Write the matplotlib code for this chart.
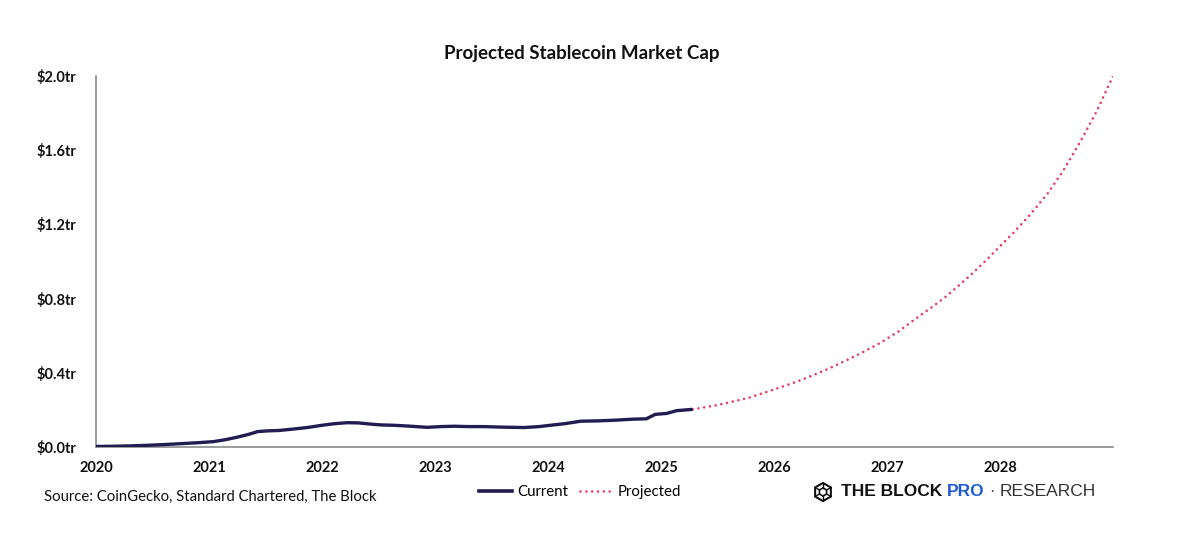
import matplotlib
matplotlib.use("Agg")
import matplotlib.pyplot as plt
from matplotlib.patches import RegularPolygon
from matplotlib.lines import Line2D

plt.rcParams['font.family'] = ['Lato', 'DejaVu Sans']

# current market cap, $tr, by decimal year
cur_years = [2020.00, 2020.15, 2020.30, 2020.45, 2020.60, 2020.75, 2020.90, 2021.04,
             2021.15, 2021.25, 2021.35, 2021.43, 2021.52, 2021.62, 2021.75, 2021.87,
             2022.00, 2022.10, 2022.22, 2022.32, 2022.42, 2022.52, 2022.64, 2022.76,
             2022.93, 2023.05, 2023.17, 2023.30, 2023.43, 2023.60, 2023.79, 2023.92,
             2024.02, 2024.15, 2024.29, 2024.45, 2024.61, 2024.75, 2024.87, 2024.95,
             2025.05, 2025.14, 2025.28]
cur_vals = [0.003, 0.004, 0.006, 0.009, 0.013, 0.018, 0.023, 0.029,
            0.040, 0.053, 0.068, 0.083, 0.087, 0.089, 0.097, 0.105,
            0.117, 0.125, 0.131, 0.130, 0.124, 0.119, 0.117, 0.113,
            0.106, 0.110, 0.112, 0.110, 0.110, 0.107, 0.105, 0.110,
            0.117, 0.126, 0.139, 0.141, 0.145, 0.150, 0.152, 0.176,
            0.181, 0.196, 0.203]

# projection
proj_years = [2025.28, 2025.50, 2025.77, 2026.00, 2026.20, 2026.35, 2026.50, 2026.65,
              2026.80, 2026.94, 2027.10, 2027.25, 2027.40, 2027.53, 2027.70, 2027.85,
              2027.98, 2028.12, 2028.27, 2028.42, 2028.56, 2028.71, 2028.86, 2029.00]
proj_vals = [0.203, 0.226, 0.264, 0.31, 0.352, 0.388, 0.427, 0.47,
             0.515, 0.561, 0.622, 0.69, 0.755, 0.815, 0.905, 0.99,
             1.07, 1.155, 1.255, 1.365, 1.49, 1.645, 1.815, 2.0]

year_ticks = [2020, 2021, 2022, 2023, 2024, 2025, 2026, 2027, 2028]
y_ticks = [0.0, 0.4, 0.8, 1.2, 1.6, 2.0]
y_labels = ['$0.0tr', '$0.4tr', '$0.8tr', '$1.2tr', '$1.6tr', '$2.0tr']

navy = '#211d52'
pink = '#e63b61'
dots = (0, (0.01, 2.2))

fig = plt.figure(figsize=(11.96, 5.34), dpi=100)
ax = fig.add_axes([96/1196, 1-447/534, (1113-96)/1196, (447-76)/534])

ax.plot(cur_years, cur_vals, color=navy, lw=2.4, solid_capstyle='butt', zorder=3)
ax.plot(proj_years, proj_vals, color=pink, lw=1.9, linestyle=dots,
        dash_capstyle='round', zorder=2)

ax.set_xlim(2020, 2029)
ax.set_ylim(0, 2.0)
ax.set_xticks(year_ticks)
ax.set_xticklabels([str(y) for y in year_ticks])
ax.set_yticks(y_ticks)
ax.set_yticklabels(y_labels)
ax.tick_params(length=0, labelsize=10.5, colors='#111111')
for lab in ax.get_xticklabels() + ax.get_yticklabels():
    lab.set_fontweight('bold')
ax.tick_params(axis='x', pad=10)
ax.tick_params(axis='y', pad=14)
for s in ['top', 'right']:
    ax.spines[s].set_visible(False)
for s in ['left', 'bottom']:
    ax.spines[s].set_color('#8a8a8a')
    ax.spines[s].set_linewidth(1.2)

fig.text(582/1196, 1-53/534, 'Projected Stablecoin Market Cap', ha='center', va='center',
         fontsize=13.5, fontweight='bold', color='#111111')

fig.text(44/1196, 1-497/534, 'Source: CoinGecko, Standard Chartered, The Block',
         ha='left', va='center', fontsize=10.7, color='#111111')

# legend
handles = [Line2D([], [], color=navy, lw=2.6),
           Line2D([], [], color=pink, lw=1.9, linestyle=dots, dash_capstyle='round')]
fig.legend(handles, ['Current', 'Projected'], loc='center', bbox_to_anchor=(580/1196, 1-492/534),
           ncol=2, frameon=False, fontsize=10.8, handlelength=2.2, handletextpad=0.3,
           columnspacing=0.8)

# logo
iax = fig.add_axes([813/1196, 1-502/534, 20/1196, 20/534])
iax.set_xlim(-1.1, 1.1)
iax.set_ylim(-1.1, 1.1)
iax.set_aspect('equal')
iax.axis('off')
iax.add_patch(RegularPolygon((0, 0), 6, radius=1.0, fill=False, ec='#111111', lw=1.5))
iax.add_patch(RegularPolygon((0, 0), 6, radius=0.45, fill=False, ec='#111111', lw=1.2))
for (a, b) in [((0, 1.0), (0, 0.45)), ((0, -1.0), (0, -0.45)),
               ((0.87, 0.5), (0.39, 0.22)), ((-0.87, 0.5), (-0.39, 0.22)),
               ((0.87, -0.5), (0.39, -0.22)), ((-0.87, -0.5), (-0.39, -0.22))]:
    iax.plot([a[0], b[0]], [a[1], b[1]], color='#111111', lw=1.0)

fig.canvas.draw()
r = fig.canvas.get_renderer()
x = 841
ly = 1-492/534
pieces = [('THE BLOCK ', '#111111', 'bold'), ('PRO', '#1f5bd6', 'bold'),
          (' \u00b7 ', '#444444', 'normal'), ('RESEARCH', '#333333', 'normal')]
for txt, col, w in pieces:
    t = fig.text(x/1196, ly, txt, ha='left', va='center', fontsize=12.5, color=col,
                 fontweight=w, family=['Liberation Sans', 'DejaVu Sans'])
    x += t.get_window_extent(renderer=r).width

fig.savefig('out.png', dpi=100, facecolor='white')
